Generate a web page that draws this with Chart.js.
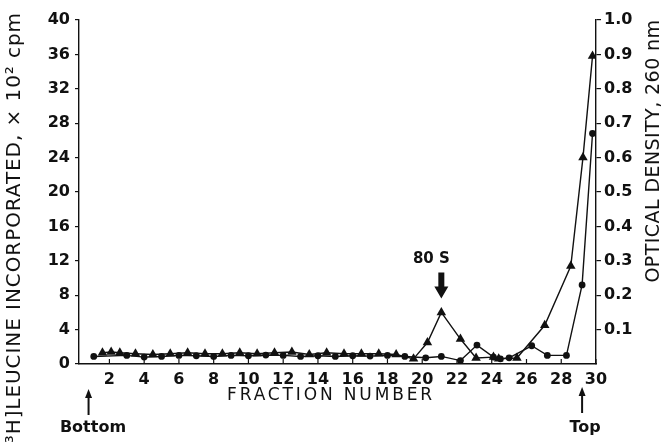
<!DOCTYPE html>
<html><head><meta charset="utf-8">
<script src="https://cdn.jsdelivr.net/npm/chart.js@4.4.1/dist/chart.umd.min.js"></script>
<style>html,body{margin:0;padding:0;background:#fff;}canvas{display:block;}</style>
</head><body>
<canvas id="c" width="664" height="442"></canvas>
<script>
// ---- data ----
const xTicks = [2,4,6,8,10,12,14,16,18,20,22,24,26,28,30];
const leftTicks = [0,4,8,12,16,20,24,28,32,36,40];
const rightTicks = [0.1,0.2,0.3,0.4,0.5,0.6,0.7,0.8,0.9,1.0];

// [3H]leucine cpm (x 10^2) - triangles
const triFraction = [1.6,2.1,2.6,3.5,4.5,5.5,6.5,7.5,8.5,9.5,10.5,11.5,12.5,13.5,14.5,15.5,16.5,17.5,18.5,19.5,20.3,21.1,22.2,23.1,24.1,24.4,25.45,27.05,28.55,29.25,29.8];
const triCpm      = [1.3,1.4,1.3,1.2,1.1,1.2,1.3,1.2,1.2,1.3,1.2,1.3,1.4,1.1,1.3,1.2,1.2,1.2,1.1,0.6,2.5,6.0,2.9,0.7,0.8,0.6,0.7,4.5,11.4,24.0,35.8];

// optical density 260 nm - circles
const circFraction = [1.1,3,4,5,6,7,8,9,10,11,12,13,14,15,16,17,18,19,20.2,21.1,22.2,23.15,24.1,24.5,25.0,26.3,27.2,28.3,29.2,29.8];
const circOD       = [0.022,0.025,0.02,0.022,0.025,0.024,0.022,0.025,0.024,0.026,0.025,0.022,0.024,0.022,0.024,0.023,0.025,0.022,0.018,0.022,0.01,0.055,0.02,0.015,0.018,0.053,0.025,0.025,0.23,0.67];

const peakFraction = 21.1, peakLabel = '80 S';
const bottomFraction = 0.8, topFraction = 29.2;

const INK = '#111';
const tickFont = {family:'DejaVu Sans', weight:'bold', size:16};

function drawArrowUp(ctx, x, yTop, yBot) {
  ctx.strokeStyle = INK; ctx.fillStyle = INK; ctx.lineWidth = 2;
  ctx.beginPath(); ctx.moveTo(x, yBot); ctx.lineTo(x, yTop + 6); ctx.stroke();
  ctx.beginPath(); ctx.moveTo(x, yTop); ctx.lineTo(x - 3.5, yTop + 9); ctx.lineTo(x + 3.5, yTop + 9); ctx.closePath(); ctx.fill();
}

function fitText(ctx, text, target) {
  ctx.letterSpacing = '0px';
  const w = ctx.measureText(text).width;
  const ls = (target - w) / text.length;
  ctx.letterSpacing = ls.toFixed(2) + 'px';
}

const annot = {
  id: 'annot',
  afterDraw(chart) {
    const ctx = chart.ctx, xs = chart.scales.x, yL = chart.scales.yL, ca = chart.chartArea;
    ctx.save();
    // inward x ticks
    ctx.strokeStyle = INK; ctx.lineWidth = 1.2;
    xTicks.forEach(v => {
      const px = xs.getPixelForValue(v);
      ctx.beginPath(); ctx.moveTo(px, ca.bottom); ctx.lineTo(px, ca.bottom - 5); ctx.stroke();
    });
    ctx.fillStyle = INK;
    // left title
    ctx.save();
    ctx.translate(15, 12); ctx.rotate(-Math.PI/2);
    ctx.font = '20px "DejaVu Sans"'; ctx.textAlign = 'right'; ctx.textBaseline = 'middle';
    const lt = '[\u00B3H]LEUCINE INCORPORATED, \u00D7 10\u00B2 cpm';
    fitText(ctx, lt, 440);
    ctx.fillText(lt, 0, 0);
    ctx.restore();
    // right title
    ctx.save();
    ctx.translate(654, 151); ctx.rotate(-Math.PI/2);
    ctx.font = '19px "DejaVu Sans"'; ctx.textAlign = 'center'; ctx.textBaseline = 'middle';
    const rt = 'OPTICAL DENSITY, 260 nm';
    fitText(ctx, rt, 263);
    ctx.fillText(rt, 0, 0);
    ctx.restore();
    // x title
    ctx.save();
    ctx.font = '17px "DejaVu Sans"'; ctx.textAlign = 'center'; ctx.textBaseline = 'middle';
    const xt = 'FRACTION NUMBER';
    fitText(ctx, xt, 208);
    ctx.fillText(xt, 331, 396);
    ctx.restore();
    // bottom / top markers
    ctx.letterSpacing = '0px';
    const bx = xs.getPixelForValue(bottomFraction), tx = xs.getPixelForValue(topFraction);
    drawArrowUp(ctx, bx, 389, 415);
    drawArrowUp(ctx, tx, 387, 413);
    ctx.font = 'bold 16px "DejaVu Sans"'; ctx.textAlign = 'center'; ctx.textBaseline = 'middle';
    ctx.fillText('Bottom', 93, 428);
    ctx.fillText('Top', tx + 3, 428);
    // 80 S arrow
    const px = xs.getPixelForValue(peakFraction);
    const tip = yL.getPixelForValue(triCpm[triFraction.indexOf(peakFraction)]) - 14;
    ctx.beginPath();
    ctx.moveTo(px - 3, tip - 26); ctx.lineTo(px + 3, tip - 26); ctx.lineTo(px + 3, tip - 12);
    ctx.lineTo(px + 7, tip - 12); ctx.lineTo(px, tip); ctx.lineTo(px - 7, tip - 12);
    ctx.lineTo(px - 3, tip - 12); ctx.closePath(); ctx.fill();
    ctx.font = 'bold 15px "DejaVu Sans"';
    ctx.fillText(peakLabel, px - 10, tip - 39);
    ctx.restore();
  }
};

new Chart(document.getElementById('c'), {
  type: 'scatter',
  data: {
    datasets: [
      { data: triFraction.map((x,i)=>({x, y: triCpm[i]})), yAxisID: 'yL', showLine: true,
        borderColor: INK, backgroundColor: INK, borderWidth: 1.4, pointStyle: 'triangle',
        pointRadius: 5.5, pointBorderWidth: 0, pointBackgroundColor: INK },
      { data: circFraction.map((x,i)=>({x, y: circOD[i]})), yAxisID: 'yR', showLine: true,
        borderColor: INK, backgroundColor: INK, borderWidth: 1.4, pointStyle: 'circle',
        pointRadius: 3.4, pointBorderWidth: 0, pointBackgroundColor: INK }
    ]
  },
  options: {
    responsive: false, animation: false, devicePixelRatio: 1,
    layout: { padding: { top: 20, left: 0, right: 0, bottom: 0 } },
    plugins: { legend: { display: false }, tooltip: { enabled: false } },
    scales: {
      x: {
        type: 'linear', min: 0.25, max: 30,
        afterBuildTicks: s => { s.ticks = xTicks.map(v => ({ value: v })); },
        afterFit: s => { s.height = 78; },
        grid: { display: true, drawOnChartArea: false, drawTicks: false },
        border: { display: true, color: INK, width: 1.4 },
        ticks: { font: tickFont, color: INK, padding: 6, maxRotation: 0, autoSkip: false }
      },
      yL: {
        position: 'left', min: 0, max: 40,
        afterBuildTicks: s => { s.ticks = leftTicks.map(v => ({ value: v })); },
        afterFit: s => { s.width = 79; },
        grid: { display: true, drawOnChartArea: false, drawTicks: true, tickLength: 4, color: INK, lineWidth: 1.2 },
        border: { display: true, color: INK, width: 1.4 },
        ticks: { font: tickFont, color: INK, padding: 5 }
      },
      yR: {
        position: 'right', min: 0, max: 1,
        afterBuildTicks: s => { s.ticks = rightTicks.map(v => ({ value: v })); },
        afterFit: s => { s.width = 68; },
        grid: { display: true, drawOnChartArea: false, drawTicks: true, tickLength: 5, color: INK, lineWidth: 1.2 },
        border: { display: true, color: INK, width: 1.4 },
        ticks: { font: tickFont, color: INK, padding: 3, callback: v => v.toFixed(1) }
      }
    }
  },
  plugins: [annot]
});
</script>
</body></html>
